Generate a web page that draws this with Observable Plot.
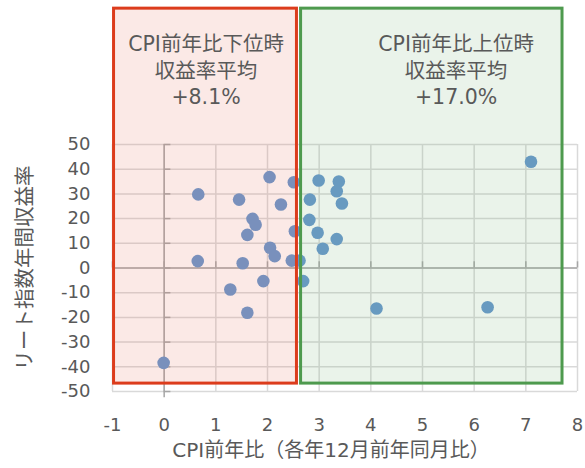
<!DOCTYPE html>
<html>
<head>
<meta charset="utf-8">
<script src="https://cdn.jsdelivr.net/npm/d3@7"></script>
<script src="https://cdn.jsdelivr.net/npm/@observablehq/plot@0.6"></script>
<style>
  html, body { margin: 0; padding: 0; background: #fff; }
  svg { display: block; }
</style>
</head>
<body>
<div id="chart"></div>
<script>
// CPI year-over-year (Dec, %) and REIT index annual return (%)
const cpi = [2.04, 2.51, 0.66, 1.45, 2.26, 1.71, 1.77, 1.61, 2.53, 2.05, 2.14, 0.65, 1.52, 2.47, 2.62,
             1.92, 1.28, 1.61, -0.01, 2.69,
             2.99, 3.38, 3.34, 2.82, 3.44, 2.81, 2.97, 3.34, 3.07, 7.10, 4.11, 6.26];
const reit = [36.8, 34.7, 29.8, 27.7, 25.7, 19.9, 17.5, 13.4, 14.9, 8.2, 4.8, 2.8, 1.9, 3.0, 3.0,
              -5.3, -8.7, -18.1, -38.4, -5.3,
              35.4, 35.0, 31.1, 27.7, 26.1, 19.5, 14.3, 11.7, 7.8, 43.0, -16.4, -15.9];
const xTicks = [-1, 0, 1, 2, 3, 4, 5, 6, 7, 8];
const yTicks = [-50, -40, -30, -20, -10, 0, 10, 20, 30, 40, 50];
const groupLabels = ["CPI前年比下位時\n収益率平均\n+8.1%", "CPI前年比上位時\n収益率平均\n+17.0%"];
const xTitle = "CPI前年比（各年12月前年同月比）";
const yTitle = "リート指数年間収益率";

const points = cpi.map((c, i) => ({cpi: c, reit: reit[i]}));
const boxes = [
  {x1: -0.97, x2: 2.57, fill: "#e87862", stroke: "#dc3c1c", label: groupLabels[0], cx: 0.81},
  {x1: 2.65, x2: 7.71, fill: "#7fb47f", stroke: "#4e9a4e", label: groupLabels[1], cx: 5.65}
];
const font = "'DejaVu Sans', 'Noto Sans CJK JP', sans-serif";
const grid = "#d9d9d9";
const axisCol = "#a6a6a6";
const fmt = d => String(d);

const chart = Plot.plot({
  width: 585,
  height: 468,
  marginTop: 144,
  marginBottom: 77,
  marginLeft: 112,
  marginRight: 8,
  style: {fontFamily: font, background: "#fff", overflow: "visible"},
  x: {domain: [-1, 8]},
  y: {domain: [-50, 50]},
  marks: [
    Plot.ruleX(xTicks, {stroke: grid, strokeWidth: 1.5}),
    Plot.ruleY(yTicks, {stroke: grid, strokeWidth: 1.5}),
    Plot.ruleY([0], {stroke: axisCol, strokeWidth: 1.5}),
    Plot.ruleX([0], {y1: -52.5, y2: 50, stroke: axisCol, strokeWidth: 1.5}),
    Plot.ruleY(yTicks, {x1: 0, x2: 0.13, stroke: axisCol, strokeWidth: 1.5}),
    Plot.ruleX(xTicks, {y1: 0, y2: 2.5, stroke: axisCol, strokeWidth: 1.5}),
    Plot.dot(points, {x: "cpi", y: "reit", r: 6.3, fill: "#6596cd", stroke: "none"}),
    Plot.rect(boxes, {x1: "x1", x2: "x2", y1: -46.8, y2: 105, fill: "fill", fillOpacity: 0.16}),
    Plot.rect(boxes, {x1: "x1", x2: "x2", y1: -46.8, y2: 105, fill: "none", stroke: "stroke", strokeWidth: 3}),
    Plot.text(boxes, {x: "cx", y: 80.5, text: "label", fontSize: 20.5, lineHeight: 1.27, fill: "#595959", textAnchor: "middle"}),
    Plot.axisX({ticks: xTicks, tickSize: 0, tickPadding: 27, fontSize: 18, color: "#595959", label: null, tickFormat: fmt}),
    Plot.axisY({ticks: yTicks, tickSize: 0, tickPadding: 22, fontSize: 18, color: "#595959", label: null, tickFormat: fmt}),
    Plot.text([xTitle], {frameAnchor: "bottom", dy: 65, dx: -14, fontSize: 20, fill: "#595959"}),
    Plot.text([yTitle], {frameAnchor: "left", textAnchor: "middle", dx: -87, rotate: -90, fontSize: 20.5, fill: "#595959"})
  ]
});
document.getElementById("chart").appendChild(chart);
</script>
</body>
</html>
